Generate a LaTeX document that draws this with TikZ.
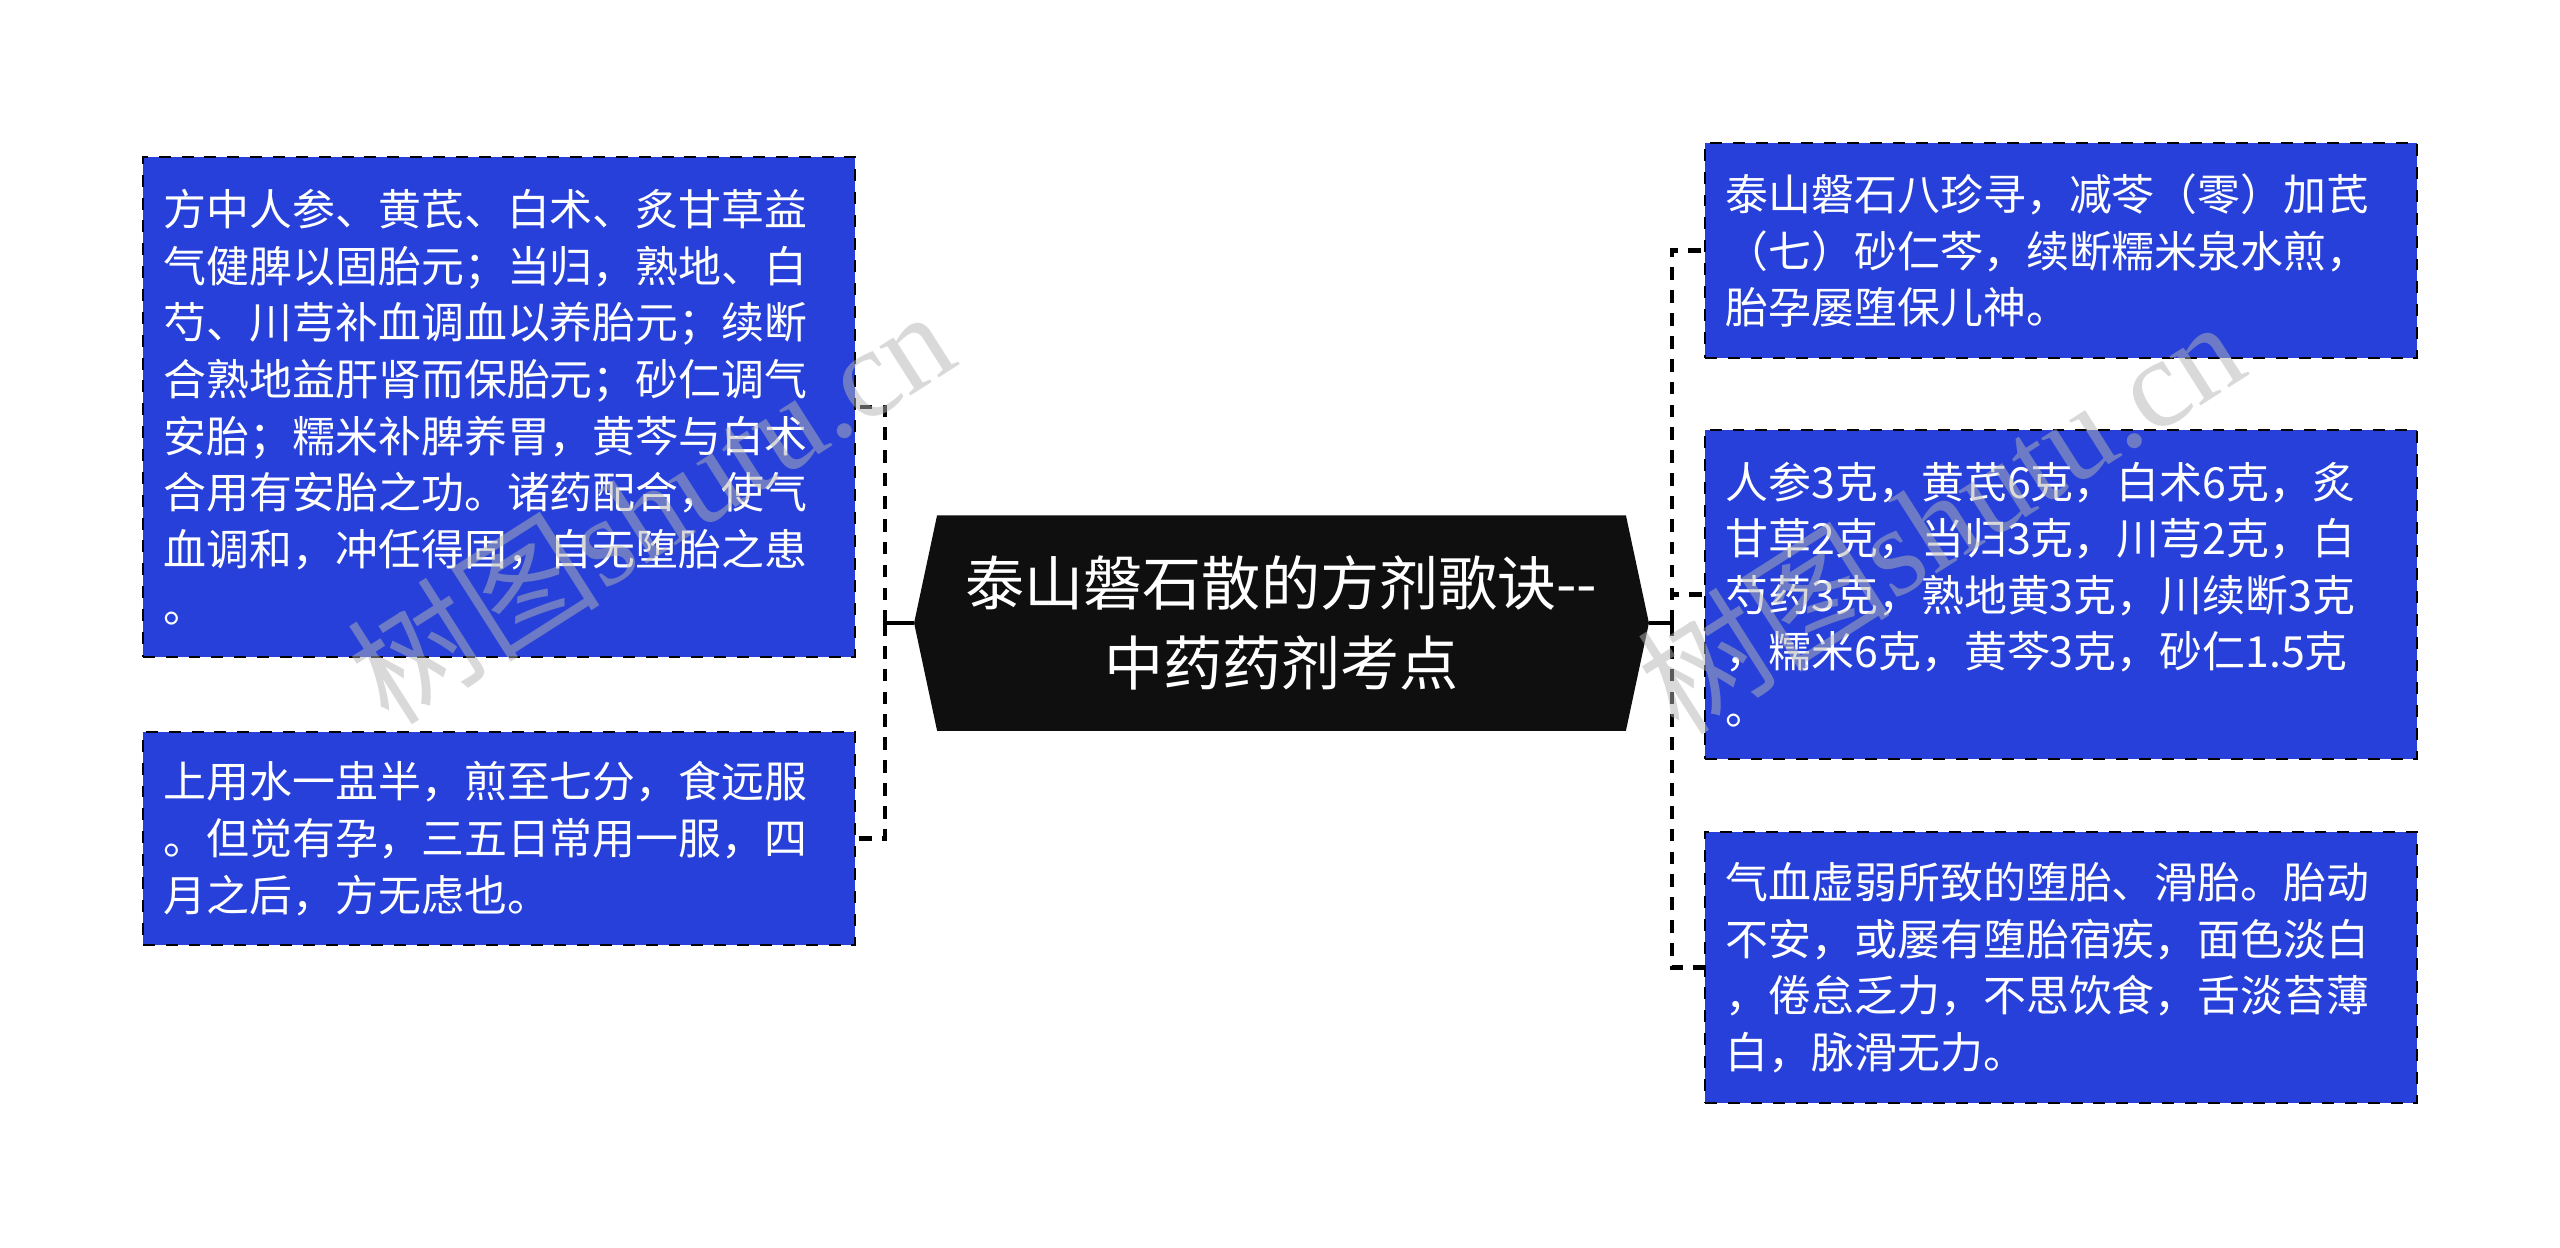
\documentclass[tikz,border=0pt]{standalone}
\usepackage{fontspec}
\setmainfont{Noto Sans CJK SC}
\newfontfamily\wmlatin{Liberation Serif}
\usetikzlibrary{calc,backgrounds}
\definecolor{boxblue}{RGB}{38,64,217}
\definecolor{hubblack}{RGB}{15,15,15}
\definecolor{wmgray}{RGB}{180,180,180}
\begin{document}
\begin{tikzpicture}[x=0.01cm,y=-0.01cm,
  leaf/.style={draw=black, line width=0.7pt, dash pattern=on 3.4pt off 3.1pt,
    fill=boxblue, text=white, text width=6.7cm, inner xsep=0.21cm, inner ysep=0pt,
    align=left, font=\fontsize{12.2pt}{16.1pt}\selectfont},
  hub/.style={text=white, inner sep=0pt, minimum width=7.33cm, minimum height=2.14cm,
    align=center, font=\fontsize{16.8pt}{22.8pt}\selectfont},
  stub/.style={line width=1.2pt},
  link/.style={line width=1.2pt, dash pattern=on 3.6pt off 2.9pt},
  wmark/.style={text=wmgray, opacity=0.5, rotate=32.5, inner sep=0pt,
    font=\fontsize{36pt}{36pt}\selectfont}]
\useasboundingbox (0,0) rectangle (2560,1247);

% hub
\node[hub] (hub) at (1281.5,623) {泰山磐石散的方剂歌诀-{}-\\中药药剂考点};
\begin{scope}[on background layer]
\fill[white] (0,0) rectangle (2560,1247);
\fill[hubblack] ($(hub.north west)+(23,0)$) -- (hub.west) -- ($(hub.south west)+(23,0)$)
  -- ($(hub.south east)+(-23,0)$) -- (hub.east) -- ($(hub.north east)+(-23,0)$) -- cycle;
\end{scope}

% leaves
\node[leaf, minimum height=5.0cm] (l1) at (499,407) {方中人参、黄芪、白术、炙甘草益\\气健脾以固胎元；当归，熟地、白\\芍、川芎补血调血以养胎元；续断\\合熟地益肝肾而保胎元；砂仁调气\\安胎；糯米补脾养胃，黄芩与白术\\合用有安胎之功。诸药配合，使气\\血调和，冲任得固，自无堕胎之患\\。};
\node[leaf, minimum height=2.13cm] (l2) at (499,838.5) {上用水一盅半，煎至七分，食远服\\。但觉有孕，三五日常用一服，四\\月之后，方无虑也。};
\node[leaf, minimum height=2.15cm] (r1) at (2061,250.5) {泰山磐石八珍寻，减苓（零）加芪\\（七）砂仁芩，续断糯米泉水煎，\\胎孕屡堕保儿神。};
\node[leaf, minimum height=3.29cm] (r2) at (2061,594.5) {人参3克，黄芪6克，白术6克，炙\\甘草2克，当归3克，川芎2克，白\\芍药3克，熟地黄3克，川续断3克\\，糯米6克，黄芩3克，砂仁1.5克\\。};
\node[leaf, minimum height=2.71cm] (r3) at (2061,967.5) {气血虚弱所致的堕胎、滑胎。胎动\\不安，或屡有堕胎宿疾，面色淡白\\，倦怠乏力，不思饮食，舌淡苔薄\\白，脉滑无力。};

% connectors
\coordinate (jl) at (885,623);
\coordinate (jr) at (1672,623);
\draw[stub] (hub.west) -- (jl);
\draw[stub] (hub.east) -- (jr);
\draw[link] (jl) |- (l1.east);
\draw[link] (jl) |- (l2.east);
\draw[link] (jr) |- (r1.west);
\draw[link] (jr) |- (r2.west);
\draw[link] (jr) |- (r3.west);

% watermarks
\node[wmark] (wm1) at (650,505) {树图{\wmlatin shutu.cn}};
\node[wmark] (wm2) at (1940,515) {树图{\wmlatin shutu.cn}};
\end{tikzpicture}
\end{document}
